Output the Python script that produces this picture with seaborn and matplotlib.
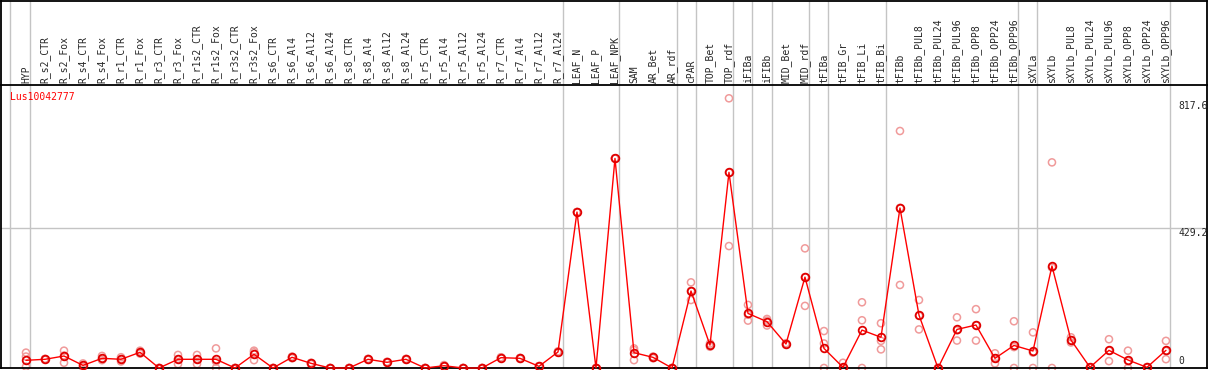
import numpy as np
import pandas as pd
import matplotlib
matplotlib.use("Agg")
import matplotlib.pyplot as plt
import matplotlib.transforms as mtransforms
import seaborn as sns

# sample names (x axis, top)
samples = [
    "HYP", "R_s2_CTR", "R_s2_Fox", "R_s4_CTR", "R_s4_Fox", "R_r1_CTR", "R_r1_Fox",
    "R_r3_CTR", "R_r3_Fox", "R_r1s2_CTR", "R_r1s2_Fox", "R_r3s2_CTR", "R_r3s2_Fox",
    "R_s6_CTR", "R_s6_Al4", "R_s6_Al12", "R_s6_Al24", "R_s8_CTR", "R_s8_Al4",
    "R_s8_Al12", "R_s8_Al24", "R_r5_CTR", "R_r5_Al4", "R_r5_Al12", "R_r5_Al24",
    "R_r7_CTR", "R_r7_Al4", "R_r7_Al12", "R_r7_Al24", "LEAF_N", "LEAF_P", "LEAF_NPK",
    "SAM", "AR_Bet", "AR_rdf", "cPAR", "TOP_Bet", "TOP_rdf", "iFIBa", "iFIBb",
    "MID_Bet", "MID_rdf", "tFIBa", "tFIB_Gr", "tFIB_Li", "tFIB_Bi", "tFIBb",
    "tFIBb_PUL8", "tFIBb_PUL24", "tFIBb_PUL96", "tFIBb_OPP8", "tFIBb_OPP24", "tFIBb_OPP96",
    "sXYLa", "sXYLb", "sXYLb_PUL8", "sXYLb_PUL24", "sXYLb_PUL96", "sXYLb_OPP8",
    "sXYLb_OPP24", "sXYLb_OPP96",
]

# mean expression
means = [
    23.5, 26.6, 36.7, 8, 29.6, 26.6, 48, 0, 26.6, 26.6, 26.6, 0, 42,
    0, 32.7, 14.3, 0, 0, 26.6, 17.4, 26.6, 0, 7, 0, 0, 31.6, 29.6, 5, 49,
    477, 0, 641, 46.9, 32.6, 0, 235.5, 70, 598.6, 167, 141.7, 73.4, 278,
    60, 2, 116, 94, 489.5, 162, 0, 118, 131.5, 29.6, 69,
    52, 312, 85.6, 2, 54, 24.5, 2, 54,
]

# replicates
rep_a = [
    47, 28, 53, 14, 37, 33, 53, 0, 40, 40, 60, 0, 53,
    0, 35, 16, 0, 0, 28, 19, 28, 0, 9, 0, 0, 33, 31, 6, 51,
    477, 0, 641, 60, 35, 0, 262, 75, 825, 193, 150, 76, 366,
    113, 16, 201, 137, 725, 208, 0, 155, 180, 45, 143,
    109, 629, 94, 2, 88, 53, 3, 83,
]
rep_b = [
    35, 25, 16, 3, 24, 20, 44, 0, 12, 12, 0, 0, 24,
    0, 30, 12, 0, 0, 25, 16, 25, 0, 5, 0, 0, 30, 28, 4, 47,
    477, 0, 641, 24, 30, 0, 208, 65, 373, 145, 130, 71, 190,
    75, 0, 146, 83, 254, 118, 0, 84, 84, 14, 0,
    0, 307, 78, 2, 21, 0, 2, 27,
]
rep_c = [
    4, 27, 38, 8, 29, 27, 47, 0, 27, 27, 20, 0, 48,
    0, 33, 14, 0, 0, 27, 17, 27, 0, 7, 0, 0, 32, 30, 5, 49,
    477, 0, 641, 55, 33, 0, 236, 70, 598, 163, 145, 73, 278,
    0, 0, 0, 57, 490, 160, 0, 115, 131, 30, 64,
    47, 0, 85, 2, 53, 21, 2, 52,
]

# grey separators (in sample index units)
separators = [-0.84, 0.22, 28.25, 31.23, 34.25, 35.25, 37.22, 38.23, 39.25,
              41.23, 42.23, 45.26, 52.23, 53.23, 60.2]
y_ticks = [0, 429.2, 817.6]
y_labels = ["0", "429.2", "817.6"]
gene = "Lus10042777"

sns.set_style("white")
plt.rcParams['font.family'] = ['DejaVu Sans Mono']

W, H = 1209, 370
fig = plt.figure(figsize=(W / 100, H / 100), dpi=100)
ax = fig.add_axes([1 / W, 2 / H, 1206 / W, 283 / H])
hax = fig.add_axes([1 / W, 285 / H, 1206 / W, 84.4 / H], sharex=ax)

pos = np.arange(len(samples))
mean_df = pd.DataFrame({"pos": pos, "value": means})
rep_df = pd.DataFrame({
    "pos": np.concatenate([pos, pos, pos]),
    "value": rep_a + rep_b + rep_c,
})

grey = "#c4c4c4"
for s in separators:
    ax.axvline(s, color=grey, lw=1, zorder=0)
    hax.axvline(s, color=grey, lw=1, zorder=0)
ax.axhline(429.2, color=grey, lw=1, zorder=0)

sns.scatterplot(data=rep_df, x="pos", y="value", ax=ax, color="#f09a9a",
                s=26, zorder=2, clip_on=False, legend=False)
pts = ax.collections[-1]
pts.set_facecolor("none")
pts.set_edgecolor("#f09a9a")
pts.set_linewidth(1.1)

sns.lineplot(data=mean_df, x="pos", y="value", ax=ax, color="red", lw=1,
             marker="o", markersize=5.5, markerfacecolor="none",
             markeredgecolor="#e00000", markeredgewidth=1.3,
             sort=False, clip_on=False, zorder=3)

ax.set_xlim(-1.316, 62.16)
ax.set_ylim(0, 865.7)
ax.set_xticks([])
ax.set_yticks([])
ax.set_xlabel("")
ax.set_ylabel("")
hax.set_xticks([])
hax.set_yticks([])
hax.set_ylim(0, 1)

for a in (ax, hax):
    for sp in a.spines.values():
        sp.set_color("black")
        sp.set_linewidth(1.3)
ax.spines["top"].set_visible(False)

htrans = mtransforms.blended_transform_factory(hax.transData, hax.transAxes)
for i, name in enumerate(samples):
    hax.text(i, 0.025, name, rotation=90, ha="center", va="bottom",
             fontsize=7, transform=htrans)

ytrans = mtransforms.blended_transform_factory(ax.transAxes, ax.transData)
for v, lab in zip(y_ticks, y_labels):
    ax.text(0.9765, v + (6 if v == 0 else 0), lab, ha="left",
            va="bottom" if v == 0 else "top", fontsize=7, transform=ytrans)

ax.text(0.0075, 0.975, gene, color="red", fontsize=7, ha="left", va="top",
        transform=ax.transAxes)

fig.savefig("out.png", dpi=100)
